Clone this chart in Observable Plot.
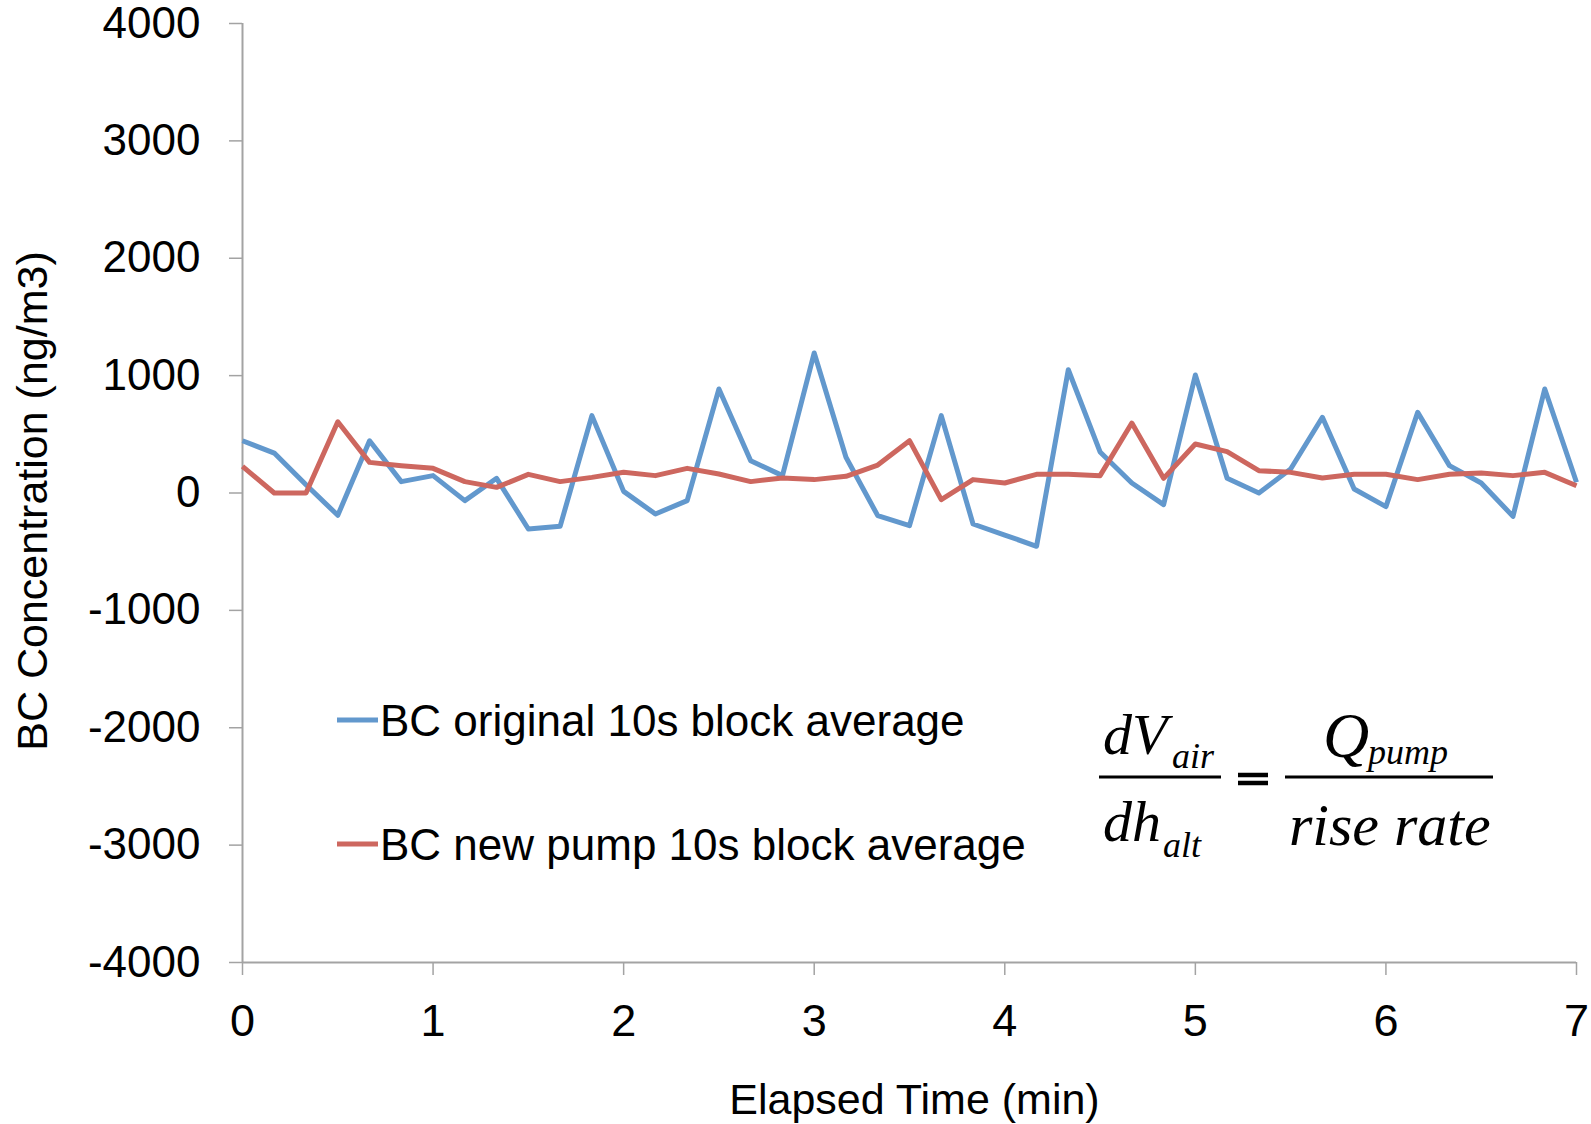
<!DOCTYPE html>
<html>
<head>
<meta charset="utf-8">
<script src="https://cdn.jsdelivr.net/npm/d3@7"></script>
<script src="https://cdn.jsdelivr.net/npm/@observablehq/plot@0.6"></script>
<style>
  html, body { margin: 0; padding: 0; background: #fff; }
  #chart { position: relative; width: 1591px; height: 1124px; overflow: hidden; }
  #chart > svg { position: absolute; left: 0; top: 0; }
</style>
</head>
<body>
<div id="chart"></div>
<script>
// Elapsed time of each 10 s block (seconds)
const elapsedSeconds = [0, 10, 20, 30, 40, 50, 60, 70, 80, 90, 100, 110, 120, 130, 140, 150, 160, 170, 180, 190, 200,
  210, 220, 230, 240, 250, 260, 270, 280, 290, 300, 310, 320, 330, 340, 350, 360, 370, 380, 390, 400, 410, 420];

// BC concentration (ng/m3), 10 s block averages
const bcOriginal = [445, 340, 70, -190, 445, 97, 148, -65, 125, -307, -284, 659, 14, -179, -65, 886, 275, 148, 1193, 304, -193,
  -278, 659, -264, -358, -454, 1050, 350, 85, -99, 1005, 125, 0, 204, 645, 34, -116, 687, 233, 85, -199, 886, 91];
const bcNewPump = [227, 0, 0, 607, 261, 233, 210, 97, 48, 159, 97, 133, 176, 148, 210, 162, 97, 128, 114, 142, 238,
  446, -57, 114, 85, 159, 159, 148, 596, 125, 417, 352, 190, 176, 128, 159, 159, 114, 159, 170, 148, 176, 62];

const seriesNames = ["BC original 10s block average", "BC new pump 10s block average"];
const seriesColors = ["#6298cd", "#cd675f"];

const xTicks = [0, 1, 2, 3, 4, 5, 6, 7];
const yTicks = [-4000, -3000, -2000, -1000, 0, 1000, 2000, 3000, 4000];

const xTitle = "Elapsed Time (min)";
const yTitle = "BC Concentration (ng/m3)";

// Long-format table for the line marks
const rows = elapsedSeconds.flatMap((s, i) => [
  {minutes: s / 60, value: bcOriginal[i], series: seriesNames[0]},
  {minutes: s / 60, value: bcNewPump[i], series: seriesNames[1]}
]);

const axisGray = "#a3a3a3";
const font = "'Liberation Sans', Arial, Helvetica, sans-serif";

const chart = Plot.plot({
  width: 1591,
  height: 1124,
  marginLeft: 242,
  marginRight: 15,
  marginTop: 23,
  marginBottom: 162,
  style: {fontFamily: font, background: "#fff", color: "#000", overflow: "visible"},
  x: {domain: [0, 7]},
  y: {domain: [-4000, 4000]},
  color: {domain: seriesNames, range: seriesColors},
  marks: [
    Plot.axisY(yTicks, {
      tickSize: 13, tickPadding: 29, tickFormat: d => `${d}`,
      stroke: axisGray, strokeWidth: 1.5, fill: "#000", fontSize: 44, label: null
    }),
    Plot.axisX(xTicks, {
      tickSize: 13, tickPadding: 29, tickFormat: d => `${d}`,
      stroke: axisGray, strokeWidth: 1.5, fill: "#000", fontSize: 45, label: null
    }),
    Plot.ruleX([0], {stroke: axisGray, strokeWidth: 2}),
    Plot.ruleY([-4000], {stroke: axisGray, strokeWidth: 2}),
    Plot.line(rows, {
      x: "minutes", y: "value", z: "series", stroke: "series",
      strokeWidth: 5, strokeLinejoin: "round", strokeLinecap: "butt"
    }),
    Plot.text([xTitle], {
      frameAnchor: "bottom", textAnchor: "middle", dx: 5, dy: 138, lineAnchor: "middle",
      fontSize: 43, fill: "#000"
    }),
    Plot.text([yTitle], {
      frameAnchor: "left", textAnchor: "middle", rotate: -90, dx: -209, dy: 8, lineAnchor: "middle",
      fontSize: 43, fill: "#000"
    })
  ]
});

const host = document.getElementById("chart");
host.appendChild(chart);

// Overlay: legend and the flow-volume relation
const overlay = d3.select(host).append("svg")
  .attr("width", 1591).attr("height", 1124)
  .style("pointer-events", "none");

// Legend entries
const legendRows = [{y: 720}, {y: 844}];
const legend = overlay.append("g");
seriesNames.forEach((name, i) => {
  const g = legend.append("g").attr("transform", `translate(0,${legendRows[i].y})`);
  g.append("line")
    .attr("x1", 337).attr("x2", 378).attr("y1", 0).attr("y2", 0)
    .attr("stroke", seriesColors[i]).attr("stroke-width", 5);
  g.append("text")
    .attr("x", 380).attr("y", 0).attr("dy", "0.36em")
    .attr("font-family", font).attr("font-size", 44).attr("fill", "#000")
    .text(name);
});

// dV_air / dh_alt = Q_pump / rise rate
const serif = "'Liberation Serif', 'Times New Roman', serif";
const eq = overlay.append("g")
  .attr("font-family", serif).attr("font-style", "italic").attr("fill", "#000");
const eqText = [
  {t: "dV", x: 1103, y: 754, s: 58},
  {t: "air", x: 1172, y: 768, s: 36},
  {t: "dh", x: 1103, y: 841, s: 58},
  {t: "alt", x: 1163, y: 857, s: 36},
  {t: "Q", x: 1323, y: 757, s: 64},
  {t: "pump", x: 1368, y: 764, s: 36},
  {t: "rise rate", x: 1289, y: 845, s: 60}
];
eq.selectAll("text").data(eqText).join("text")
  .attr("x", d => d.x).attr("y", d => d.y).attr("font-size", d => d.s)
  .text(d => d.t);
// fraction bars
[[1099, 1221], [1285, 1493]].forEach(([a, b]) => {
  eq.append("line").attr("x1", a).attr("x2", b).attr("y1", 777).attr("y2", 777)
    .attr("stroke", "#000").attr("stroke-width", 3);
});
// equals sign
[775, 783].forEach(y => {
  eq.append("line").attr("x1", 1238).attr("x2", 1268).attr("y1", y).attr("y2", y)
    .attr("stroke", "#000").attr("stroke-width", 4.5);
});
</script>
</body>
</html>
